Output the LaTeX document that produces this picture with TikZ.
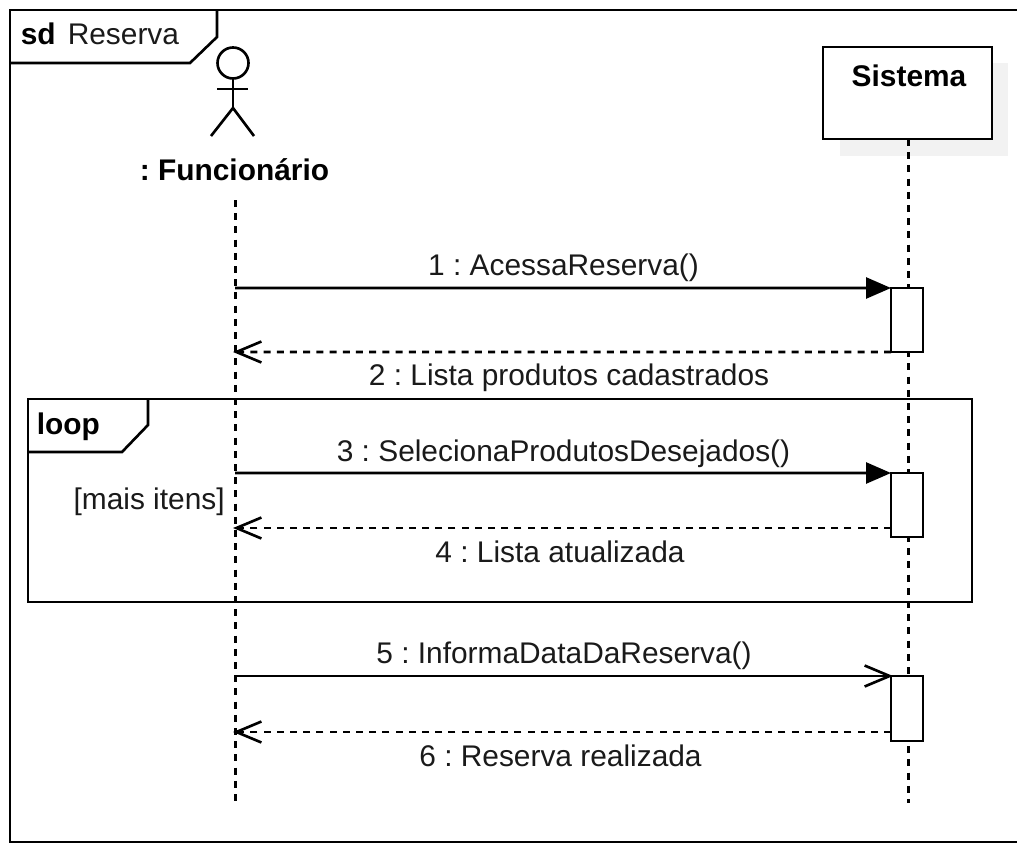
\documentclass[tikz,border=0pt]{standalone}
\usepackage{fontspec}
\setmainfont{Liberation Sans}
\usetikzlibrary{arrows.meta}
\definecolor{myShadow}{HTML}{f2f2f2}
\definecolor{myText}{HTML}{1a1a1a}
\frenchspacing
\begin{document}
\begin{tikzpicture}[>=latex, line width=0.75pt, black]
  \tikzstyle{L}=[text=myText, inner sep=0pt, anchor=base, font=\fontsize{8.5}{10}\selectfont]
  \tikzstyle{T}=[text=black, inner sep=0pt, anchor=base, font=\fontsize{8.5}{10}\selectfont\bfseries]
  \tikzstyle{A}=[draw, fill=white, minimum width=0.32cm, inner sep=0pt, outer sep=0pt]
  \tikzstyle{life}=[line width=0.85pt, dash pattern=on 0.07cm off 0.062cm]
  \tikzstyle{call}=[-{Triangle[length=0.25cm,width=0.21cm]}]
  \tikzstyle{sync}=[-{Straight Barb[length=0.25cm,width=0.21cm]}, shorten >=-0.02cm]
  \tikzstyle{back}=[-{Straight Barb[length=0.25cm,width=0.21cm]}, shorten >=-0.02cm, dash pattern=on 0.07cm off 0.062cm]

  \useasboundingbox (0,0) rectangle (10.17,8.48);

  \draw (10.3,8.38) -- (0.1,8.38) -- (0.1,0.06) -- (10.3,0.06);
  \draw (0.1,7.85) -- (1.9,7.85) -- (2.17,8.11) -- (2.17,8.38);
  \node[T, anchor=base west] at (0.195,8.03) (sd) {sd};
  \node[L, anchor=base west] at (0.665,8.03) (reserva) {Reserva};

  \draw (2.33,7.85) circle (0.155);
  \draw (2.33,7.695) -- (2.33,7.40);
  \draw (2.17,7.59) -- (2.48,7.59);
  \draw (2.11,7.12) -- (2.33,7.40) -- (2.54,7.12);
  \node[T] at (2.345,6.68) (func) {: Funcionário};

  \fill[myShadow] (8.40,6.92) rectangle (10.08,7.85);
  \node[draw, fill=white, minimum width=1.69cm, minimum height=0.92cm, inner sep=0pt, outer sep=0pt] at (9.075,7.55) (sys) {};
  \node[T] at (9.09,7.61) (sysname) {Sistema};

  \coordinate (F0) at (2.35,6.48);
  \coordinate (F9) at (2.35,0.45);
  \coordinate (S0) at (9.08,7.09);
  \coordinate (S9) at (9.08,0.45);
  \draw[life] (F0) -- (F9);
  \draw[life] (S0) -- (S9);

  \node[A, minimum height=0.64cm] at (9.07,5.28) (a1) {};
  \node[A, minimum height=0.64cm] at (9.07,3.43) (a2) {};
  \node[A, minimum height=0.65cm] at (9.07,1.395) (a3) {};

  \draw (0.28,4.49) rectangle (9.72,2.46);
  \draw (0.28,3.96) -- (1.22,3.96) -- (1.48,4.23) -- (1.48,4.49);
  \node[T, anchor=base west] at (0.355,4.14) (loop) {loop};
  \node[L, anchor=base east] at (2.26,3.385) (guard) {[mais itens]};

  \coordinate (F1) at (2.35,5.60);
  \coordinate (F2) at (2.35,4.96);
  \coordinate (F3) at (2.35,3.75);
  \coordinate (F4) at (2.35,3.20);
  \coordinate (F5) at (2.35,1.72);
  \coordinate (F6) at (2.35,1.16);
  \coordinate (S4) at (8.91,3.20);
  \coordinate (S6) at (8.91,1.16);

  \draw[call] (F1) -- (a1.north west);
  \draw[back] (a1.south west) -- (F2);
  \draw[call] (F3) -- (a2.north west);
  \draw[back] (S4) -- (F4);
  \draw[sync] (F5) -- (a3.north west);
  \draw[back] (S6) -- (F6);

  \node[L] at (5.635,5.73) (m1) {1 : AcessaReserva()};
  \node[L] at (5.69,4.63) (m2) {2 : Lista produtos cadastrados};
  \node[L] at (5.635,3.87) (m3) {3 : SelecionaProdutosDesejados()};
  \node[L] at (5.60,2.86) (m4) {4 : Lista atualizada};
  \node[L] at (5.64,1.85) (m5) {5 : InformaDataDaReserva()};
  \node[L] at (5.605,0.82) (m6) {6 : Reserva realizada};
\end{tikzpicture}
\end{document}
